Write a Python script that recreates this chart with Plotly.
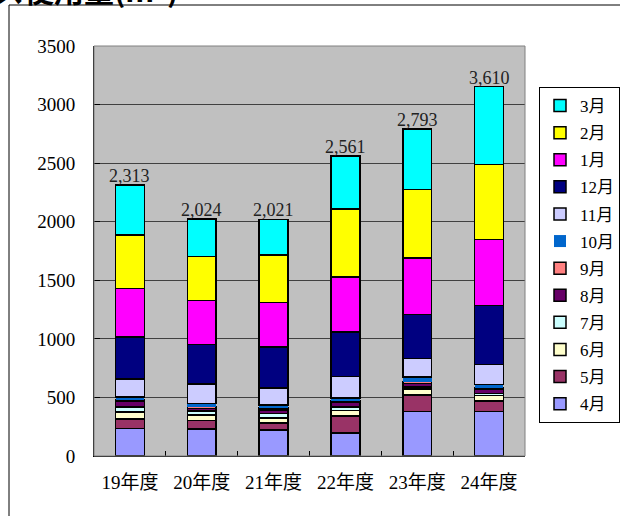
import plotly.graph_objects as go

years = ["19年度", "20年度", "21年度", "22年度", "23年度", "24年度"]
months = ["4月", "5月", "6月", "7月", "8月", "9月", "10月", "11月", "12月", "1月", "2月", "3月"]
v_apr = [235, 230, 222, 196, 380, 380]
v_may = [81, 73, 60, 145, 141, 90]
v_jun = [60, 47, 43, 47, 51, 47]
v_jul = [43, 34, 38, 30, 17, 17]
v_aug = [47, 21, 30, 38, 30, 34]
v_sep = [13, 17, 17, 13, 17, 13]
v_oct = [26, 26, 26, 26, 38, 30]
v_nov = [152, 166, 145, 185, 160, 171]
v_dec = [360, 340, 350, 380, 375, 504]
v_jan = [412, 373, 378, 466, 480, 562]
v_feb = [456, 378, 408, 582, 585, 639]
v_mar = [428, 319, 304, 453, 519, 667]
total_labels = ["2,313", "2,024", "2,021", "2,561", "2,793", "3,610"]

series = [v_apr, v_may, v_jun, v_jul, v_aug, v_sep, v_oct, v_nov, v_dec, v_jan, v_feb, v_mar]
colors = ["#9999FF", "#993366", "#FFFFCC", "#CCFFFF", "#660066", "#FF8080",
          "#0066CC", "#CCCCFF", "#000080", "#FF00FF", "#FFFF00", "#00FFFF"]

SERIF = '"Liberation Serif", "Noto Sans CJK JP", serif'

fig = go.Figure()
for i, (m, vals, c) in enumerate(zip(months, series, colors)):
    lw = 0 if m == "10月" else 1.5
    fig.add_trace(go.Bar(
        x=years, y=vals, name=m, legendgroup=m, legendrank=100 - i,
        marker=dict(color=c, line=dict(color="#000000", width=lw)),
        width=0.4,
    ))

tops = [sum(s[j] for s in series) for j in range(len(years))]
for j, yv in enumerate(years):
    fig.add_annotation(x=yv, y=tops[j], text=total_labels[j], showarrow=False,
                       yanchor="bottom", yshift=-3,
                       font=dict(family=SERIF, size=18, color="#222222"))

# title (partly cut off at the top of the image)
fig.add_annotation(xref="paper", yref="paper", x=(180 - 94) / 431, y=(456 + 11) / 410,
                   xanchor="right", yanchor="middle", showarrow=False,
                   text="<b>ガス使用量(m³)</b>",
                   font=dict(family="Noto Sans CJK JP", size=30, color="#000000"))

# outer frame (left and top edges)
fx0 = (9 - 94) / 431
fy1 = (456 - 5) / 410
fig.add_shape(type="line", xref="paper", yref="paper", x0=fx0, x1=fx0, y0=-0.3, y1=fy1,
              line=dict(color="#000000", width=1))
fig.add_shape(type="line", xref="paper", yref="paper", x0=fx0, x1=1.3, y0=fy1, y1=fy1,
              line=dict(color="#000000", width=1))
# plot area border
fig.add_shape(type="rect", xref="paper", yref="paper", x0=0, x1=1, y0=0, y1=1,
              line=dict(color="#808080", width=1), layer="above")

fig.update_layout(
    width=620, height=516,
    margin=dict(l=94, r=95, t=46, b=60, autoexpand=False),
    barmode="stack",
    plot_bgcolor="#C0C0C0",
    paper_bgcolor="#FFFFFF",
    font=dict(family=SERIF, size=15, color="#000000"),
    showlegend=True,
    legend=dict(
        x=(539 - 94) / 431, y=(456 - 87) / 410, xanchor="left", yanchor="top",
        traceorder="grouped", tracegroupgap=2,
        bordercolor="#000000", borderwidth=1, bgcolor="#FFFFFF",
        font=dict(family=SERIF, size=17),
    ),
    bargap=0.6,
)
fig.update_yaxes(range=[0, 3500], dtick=500, showgrid=True, gridcolor="#404040", gridwidth=1,
                 ticks="inside", ticklen=6, tickcolor="#000000",
                 showline=True, linecolor="#000000", linewidth=1, zeroline=False,
                 ticklabelstandoff=14, tickfont=dict(family=SERIF, size=19))
fig.update_xaxes(showline=True, linecolor="#000000", linewidth=1,
                 ticks="inside", ticklen=5, tickcolor="#000000", tickson="boundaries",
                 tickfont=dict(family=SERIF, size=19), ticklabelstandoff=9)

fig.write_html("out.html", config={"displayModeBar": False},
               post_script="document.body.style.margin='0px';")
